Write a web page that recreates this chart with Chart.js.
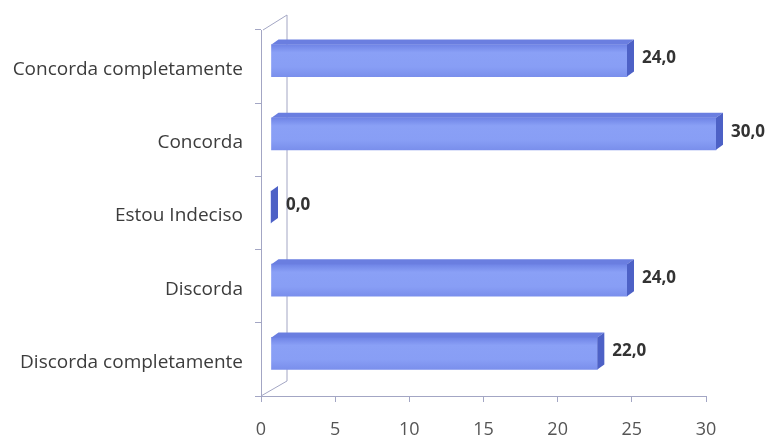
<!DOCTYPE html>
<html>
<head>
<meta charset="utf-8">
<script src="https://cdn.jsdelivr.net/npm/chart.js@4"></script>
<style>
  body { margin: 0; background: #fff; }
</style>
</head>
<body>
<canvas id="myChart" width="767" height="440"></canvas>
<script>
// Chart data
const categories = ["Concorda completamente", "Concorda", "Estou Indeciso", "Discorda", "Discorda completamente"]
const values = [24.0, 30.0, 0.0, 24.0, 22.0]
const xTicks = [0, 5, 10, 15, 20, 25, 30]

// 3D look: bars sit a bit behind the front frame, with some depth
const shiftX = 10, shiftY = -6
const depthX = 7, depthY = -5
const wallX = 26, wallY = -15
const lineColor = "#a3a6c4"

// Front face gradient for each bar
function barGradient(context) {
    const chart = context.chart
    const yScale = chart.scales.y
    if (!yScale) return "#8095f0"
    const cy = yScale.getPixelForValue(context.dataIndex)
    if (!isFinite(cy)) return "#8095f0"
    const g = chart.ctx.createLinearGradient(0, cy - 16, 0, cy + 16)
    g.addColorStop(0, "#6f84e6")
    g.addColorStop(0.25, "#8aa0f6")
    g.addColorStop(0.7, "#889ef5")
    g.addColorStop(1, "#7a8fec")
    return g
}

// Draws the back wall, the top and side faces, and the value labels
const bars3d = {
    id: "bars3d",
    beforeDatasetsDraw(chart) {
        const ctx = chart.ctx
        const a = chart.chartArea

        // back wall
        ctx.save()
        ctx.strokeStyle = lineColor
        ctx.lineWidth = 1
        ctx.beginPath()
        ctx.moveTo(a.left + 2, a.top)
        ctx.lineTo(a.left + wallX, a.top + wallY)
        ctx.lineTo(a.left + wallX, a.bottom + wallY)
        ctx.lineTo(a.left, a.bottom)
        ctx.stroke()
        ctx.restore()

        ctx.save()
        ctx.translate(shiftX, shiftY)
    },
    afterDatasetsDraw(chart) {
        const ctx = chart.ctx
        const meta = chart.getDatasetMeta(0)

        meta.data.forEach(function(bar, i) {
            const p = bar.getProps(["x", "y", "base", "height"], true)
            const top = p.y - p.height / 2
            const bottom = p.y + p.height / 2

            // top face
            ctx.fillStyle = "#6a7ee0"
            ctx.beginPath()
            ctx.moveTo(p.base, top)
            ctx.lineTo(p.base + depthX, top + depthY)
            ctx.lineTo(p.x + depthX, top + depthY)
            ctx.lineTo(p.x, top)
            ctx.closePath()
            ctx.fill()

            // side face
            ctx.fillStyle = "#4d61c6"
            ctx.beginPath()
            ctx.moveTo(p.x, top)
            ctx.lineTo(p.x + depthX, top + depthY)
            ctx.lineTo(p.x + depthX, bottom + depthY)
            ctx.lineTo(p.x, bottom)
            ctx.closePath()
            ctx.fill()

            // value label
            ctx.fillStyle = "#333"
            ctx.font = "bold 17px 'Open Sans'"
            ctx.textBaseline = "middle"
            ctx.textAlign = "left"
            ctx.fillText(values[i].toFixed(1).replace(".", ","), p.x + depthX + 8, p.y - 2)
        })

        ctx.restore()
    }
}

const data = {
    labels: categories,
    datasets: [
        {
            data: values,
            backgroundColor: barGradient,
            borderWidth: 0,
            barThickness: 32,
            clip: false
        }
    ]
}

const config = {
    type: "bar",
    data: data,
    plugins: [bars3d],
    options: {
        indexAxis: "y",
        responsive: false,
        animation: false,
        layout: {
            padding: { top: 30, right: 61, left: 0, bottom: 0 }
        },
        plugins: {
            legend: { display: false },
            tooltip: { enabled: false }
        },
        scales: {
            x: {
                min: 0,
                max: 30,
                afterBuildTicks: function(scale) {
                    scale.ticks = xTicks.map(v => ({ value: v }))
                },
                afterFit: function(scale) { scale.height = 44 },
                grid: { drawOnChartArea: false, tickLength: 6, color: lineColor },
                border: { color: lineColor },
                ticks: {
                    font: { family: "Open Sans", size: 18 },
                    color: "#555",
                    padding: 17
                }
            },
            y: {
                afterFit: function(scale) { scale.width = 261 },
                grid: { drawOnChartArea: false, tickLength: 6, color: lineColor },
                border: { color: lineColor },
                ticks: {
                    font: { family: "Open Sans", size: 19 },
                    color: "#3c3c3c",
                    padding: 12,
                    labelOffset: 3
                }
            }
        }
    }
}

const myChart = new Chart(document.getElementById("myChart"), config)
</script>
</body>
</html>
